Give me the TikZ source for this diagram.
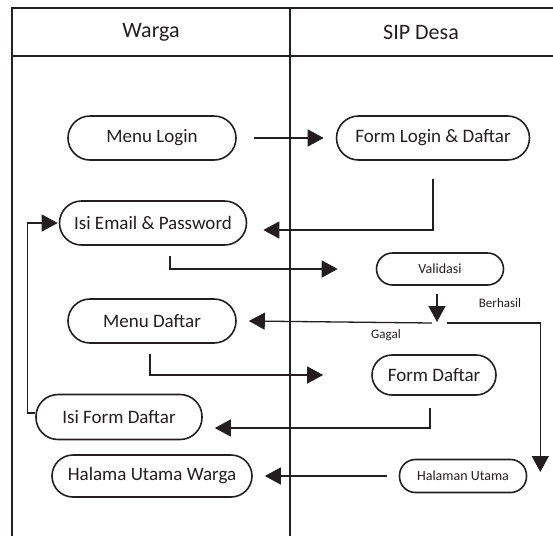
\documentclass[tikz,border=0pt]{standalone}
\usepackage{fontspec}
\setmainfont{Carlito}
\usetikzlibrary{arrows.meta}
\definecolor{ink}{HTML}{231F20}
\begin{document}
\begin{tikzpicture}[x=1pt,y=-1pt,
  frame/.style={line width=2.6pt, draw=ink},
  hdr/.style={text=ink, font=\fontsize{22}{26}\selectfont},
  act/.style={draw=ink, text=ink, line width=1.6pt, inner sep=0pt, font=\fontsize{19}{22}\selectfont},
  actsmall/.style={act, font=\fontsize{14}{17}\selectfont},
  arr/.style={draw=ink, line width=1.3pt, -{Triangle[length=16pt,width=17pt]}},
  lbl/.style={text=ink, font=\fontsize{13}{15}\selectfont}
]
\useasboundingbox[fill=white] (0,0) rectangle (553,536);
% swimlane frame
\draw[frame] (12,536) -- (12,8) -- (553,8);
\draw[frame] (12,56) -- (553,56);
\draw[frame] (290,8) -- (290,536);
\node[hdr] (hw) at (151,32) {Warga};
\node[hdr] (hs) at (421,32) {SIP Desa};
% activities
\node[act, rounded corners=22, minimum width=168, minimum height=44] (ml) at (152,138) {Menu Login};
\node[act, rounded corners=22, minimum width=193, minimum height=44] (fl) at (433,138) {Form Login \& Daftar};
\node[act, rounded corners=22, minimum width=187, minimum height=44] (ie) at (153,223) {Isi Email \& Password};
\node[actsmall, rounded corners=16, minimum width=127, minimum height=32] (va) at (440,269) {Validasi};
\node[act, rounded corners=22, minimum width=168, minimum height=44] (md) at (152,321) {Menu Daftar};
\node[act, rounded corners=20, minimum width=124, minimum height=40] (fd) at (434,375) {Form Daftar};
\node[act, rounded corners=22, minimum width=166, minimum height=45] (ifd) at (119,417) {Isi Form Daftar};
\node[act, rounded corners=21, minimum width=200, minimum height=42] (huw) at (152,476) {Halama Utama Warga};
\node[actsmall, rounded corners=16, minimum width=127, minimum height=33] (hu) at (463,476) {Halaman Utama};
\coordinate (j) at (437,323);
% labels
\node[lbl] (gl) at (386,335) {Gagal};
\node[lbl] (bl) at (500,303) {Berhasil};
% connectors
\draw[arr] ([xshift=17]ml.east) -- ([xshift=-12]fl.west);
\draw[arr] ([yshift=-18]fl.south) |- ([xshift=16,yshift=-7]ie.east);
\draw[arr] ([xshift=17,yshift=-10]ie.south) |- ([xshift=-38]va.west);
\draw[arr] ([xshift=-3,yshift=-8]va.south) -- ([yshift=1]j);
\draw[arr] ([xshift=-5]j) -- ([xshift=12]md.east);
\draw[arr] ([xshift=10]j) -| ([xshift=13,yshift=4]hu.east);
\draw[arr] ([xshift=-2,yshift=-10]md.south) |- ([xshift=-48]fd.west);
\draw[arr] ([xshift=-4,yshift=-12]fd.south) |- ([xshift=12,yshift=-11]ifd.east);
\draw[arr] ([yshift=4]ifd.west) -- ++(-8,0) |- ([xshift=-1]ie.west);
\draw[arr] ([xshift=-12]hu.west) -- ([xshift=12]huw.east);
\end{tikzpicture}
\end{document}
